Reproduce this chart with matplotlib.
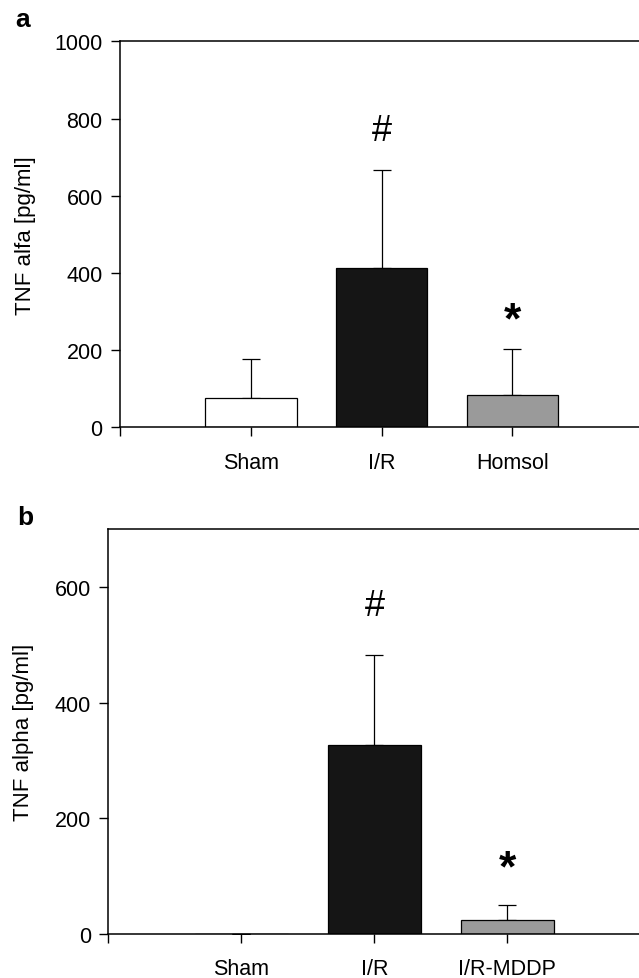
import matplotlib
matplotlib.use('Agg')
import matplotlib.pyplot as plt
import numpy as np

plt.rcParams['font.family'] = ['Liberation Sans', 'DejaVu Sans']

# panel a
groups_a = ['Sham', 'I/R', 'Homsol']
mean_a = [75, 414, 85]
sd_a = [103, 253, 119]
marks_a = ['', '#', '*']
mark_y_a = [0, 769, 277]

# panel b
groups_b = ['Sham', 'I/R', 'I/R-MDDP']
mean_b = [0, 326, 25]
sd_b = [0, 156, 25]
marks_b = ['', '#', '*']
mark_y_b = [0, 567, 113]

colors = ['white', '#151515', '#9a9a9a']


def panel(ax, groups, mean, sd, marks, mark_y, ymax, yticks, ylabel):
    x = np.arange(1, len(groups) + 1)
    ax.bar(x, mean, width=0.7, color=colors, edgecolor='black', linewidth=0.9, zorder=2)
    low = np.zeros(len(sd))
    ax.errorbar(x, mean, yerr=[low, sd], fmt='none', ecolor='black',
                elinewidth=0.9, capsize=6.8, capthick=0.9, zorder=1)
    for xi, m, my in zip(x, marks, mark_y):
        if m == '#':
            ax.text(xi, my, m, ha='center', va='center', fontsize=26)
        elif m == '*':
            ax.text(xi, my, m, ha='center', va='center', fontsize=32, fontweight='bold')
    ax.set_xlim(0, 4)
    ax.set_ylim(0, ymax)
    ax.set_yticks(yticks)
    ax.set_xticks([0, 1, 2, 3, 4])
    ax.set_xticklabels([''] + groups + [''])
    ax.spines['right'].set_visible(False)
    for s in ['left', 'top', 'bottom']:
        ax.spines[s].set_linewidth(1.1)
    ax.tick_params(axis='y', direction='out', length=6.5, width=1.0, pad=6, labelsize=15.5)
    ax.tick_params(axis='x', direction='out', length=6.5, width=1.0, pad=11, labelsize=15.5)
    ax.set_ylabel(ylabel, fontsize=16)


fig = plt.figure(figsize=(6.39, 9.79), dpi=100)

ax1 = fig.add_axes([0.1878, 0.5625, 0.8188, 0.3941])
panel(ax1, groups_a, mean_a, sd_a, marks_a, mark_y_a, 1000, [0, 200, 400, 600, 800, 1000],
      'TNF alfa [pg/ml]')
ax1.yaxis.set_label_coords(-0.161, 0.5)

ax2 = fig.add_axes([0.1696, 0.0449, 0.8326, 0.4137])
panel(ax2, groups_b, mean_b, sd_b, marks_b, mark_y_b, 700, [0, 200, 400, 600],
      'TNF alpha [pg/ml]')
ax2.yaxis.set_label_coords(-0.139, 0.5)

fig.text(23 / 639, 1 - 27 / 979, 'a', fontsize=19, fontweight='bold', ha='center', va='baseline')
fig.text(25 / 639, 1 - 525 / 979, 'b', fontsize=19, fontweight='bold', ha='center', va='baseline')

fig.savefig('out.png', dpi=100)
